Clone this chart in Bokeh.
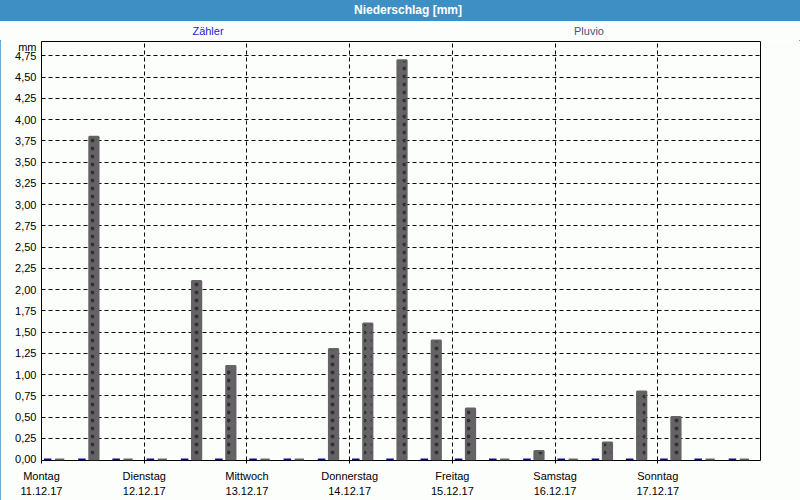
from bokeh.plotting import figure
from bokeh.models import Div, FixedTicker, Range1d, ColumnDataSource
from bokeh.layouts import column
from bokeh.transform import dodge
from bokeh.embed import file_html
from bokeh.resources import INLINE

# 8-hour intervals, Mon 11.12.17 00:00 .. Sun 17.12.17 24:00
intervals = list(range(21))
zaehler = [0, 0, 0, 0, 0, 0, 0, 0, 0, 0, 0, 0, 0, 0, 0, 0, 0, 0, 0, 0, 0]
pluvio = [0, 3.8, 0, 0, 2.1, 1.1, 0, 0, 1.3, 1.6, 4.7, 1.4, 0.6, 0, 0.1, 0, 0.2, 0.8, 0.5, 0, 0]

days = ["Montag", "Dienstag", "Mittwoch", "Donnerstag", "Freitag", "Samstag", "Sonntag"]
dates = ["11.12.17", "12.12.17", "13.12.17", "14.12.17", "15.12.17", "16.12.17", "17.12.17"]
day_ticks = [0, 3, 6, 9, 12, 15, 18]

y_ticks = [0, 0.25, 0.5, 0.75, 1.0, 1.25, 1.5, 1.75, 2.0, 2.25, 2.5, 2.75,
           3.0, 3.25, 3.5, 3.75, 4.0, 4.25, 4.5, 4.75]
y_labels = ["0,00", "0,25", "0,50", "0,75", "1,00", "1,25", "1,50", "1,75", "2,00", "2,25",
            "2,50", "2,75", "3,00", "3,25", "3,50", "3,75", "4,00", "4,25", "4,50", "4,75"]
unit_tick = 4.87
unit_label = "mm"

chart_title = "Niederschlag [mm]"
series_names = ["Zähler", "Pluvio"]
series_colors = ["#1c1cd8", "#505078"]

FONT = "Liberation Sans"
BG = "#fcfefc"
FRAME_BLUE = "#3d8fc4"
BLUE_BAR = "#0a0a96"
GRAY_BAR = "#656365"

src = ColumnDataSource(dict(i=intervals, z=zaehler, p=pluvio))

p = figure(width=800, height=460, x_range=Range1d(0, 21), y_range=Range1d(-0.012, 4.92),
           output_backend="svg", toolbar_location=None,
           min_border_left=41, min_border_right=40, min_border_top=1, min_border_bottom=40)
p.background_fill_color = BG
p.border_fill_color = BG
p.outline_line_color = "black"
p.outline_line_width = 1

p.vbar(x=dodge("i", 0.18, range=p.x_range), top="z", bottom=0, width=0.22, source=src,
       fill_color=BLUE_BAR, line_color=BLUE_BAR, line_width=2)
p.vbar(x=dodge("i", 0.53, range=p.x_range), top="p", bottom=0, width=0.27, source=src,
       fill_color=GRAY_BAR, line_color=GRAY_BAR, line_width=2,
       hatch_pattern=".", hatch_color="#333333", hatch_scale=8, hatch_weight=0.5)

# axes
xa = p.xaxis[0]
xa.ticker = FixedTicker(ticks=day_ticks)
xa.major_label_overrides = {t: f"{d}\n{dt}" for t, d, dt in zip(day_ticks, days, dates)}
xa.minor_tick_line_color = None
xa.major_tick_in = 0
xa.major_tick_out = 3
xa.major_tick_line_color = "black"
xa.axis_line_color = None
xa.major_label_standoff = 6
xa.major_label_text_font = FONT
xa.major_label_text_font_size = "11px"
xa.major_label_text_color = "black"
xa.major_label_text_line_height = 1.25

ya = p.yaxis[0]
ya.ticker = FixedTicker(ticks=y_ticks + [unit_tick])
overrides = {t: l for t, l in zip(y_ticks, y_labels)}
overrides[unit_tick] = unit_label
ya.major_label_overrides = overrides
ya.minor_tick_line_color = None
ya.major_tick_line_color = None
ya.major_tick_in = 0
ya.major_tick_out = 0
ya.axis_line_color = None
ya.major_label_standoff = 5
ya.major_label_text_font = FONT
ya.major_label_text_font_size = "11px"
ya.major_label_text_color = "black"

p.xgrid.ticker = FixedTicker(ticks=day_ticks[1:])
p.ygrid.ticker = FixedTicker(ticks=y_ticks[1:])
for g in (p.xgrid[0], p.ygrid[0]):
    g.grid_line_color = "black"
    g.grid_line_dash = "4 3"
    g.grid_line_width = 1
    g.grid_line_alpha = 1

# header: title bar and series names
name_centers = [208, 589]
spans = "".join(
    f'<span style="position:absolute;left:{c - 50}px;width:100px;top:24px;line-height:14px;'
    f'text-align:center;color:{col}">{n}</span>'
    for n, col, c in zip(series_names, series_colors, name_centers))
header_html = (
    f'<div style="position:relative;width:800px;height:40px;background:{BG};'
    f'font-family:\'{FONT}\';font-size:11px;margin:0;padding:0">'
    f'<div style="position:absolute;left:0;top:0;width:800px;height:21px;background:{FRAME_BLUE};'
    f'color:white;font-weight:bold;font-size:12px;line-height:21px;text-align:center;'
    f'text-indent:16px">{chart_title}</div>'
    f'{spans}</div>')
header = Div(text=header_html, width=800, height=40, margin=0)

layout = column(header, p, spacing=0,
                styles={"outline": f"1px solid {FRAME_BLUE}", "outline-offset": "-1px"})
open("out.html", "w").write(file_html(layout, INLINE))
